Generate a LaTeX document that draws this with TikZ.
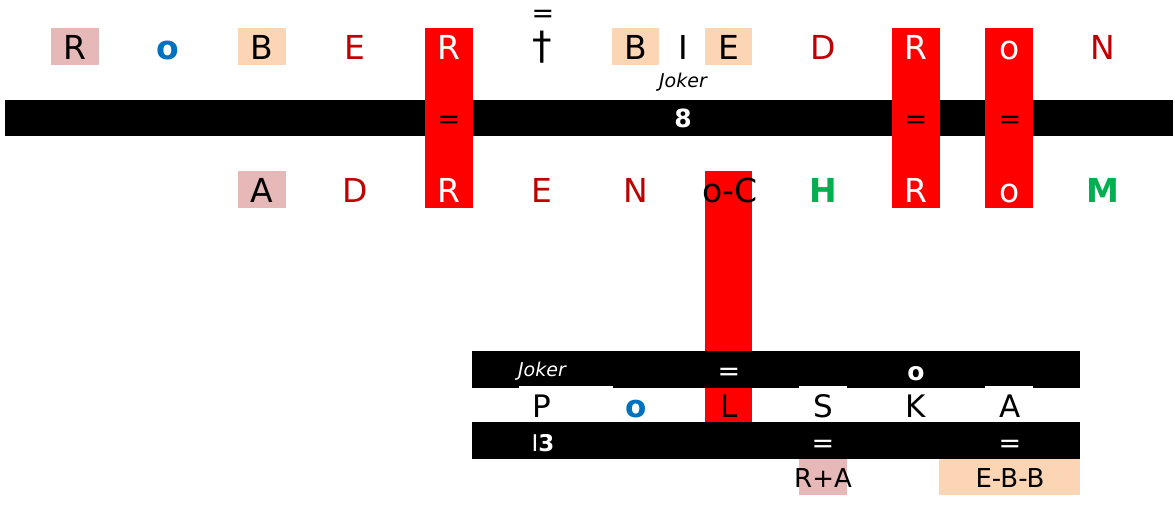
\documentclass[tikz,border=0pt]{standalone}
\usepackage{fontspec}
\setmainfont{DejaVu Sans}
\definecolor{pinkbox}{HTML}{E6B8B7}
\definecolor{peach}{HTML}{FCD5B4}
\definecolor{redc}{HTML}{FF0000}
\definecolor{darkred}{HTML}{C00000}
\definecolor{blueo}{HTML}{0070C0}
\definecolor{greenl}{HTML}{00B050}
\begin{document}
\begin{tikzpicture}[x=1pt,y=-1pt,
  big/.style={anchor=base,inner sep=0pt,font=\fontsize{33}{33}\selectfont},
  bigb/.style={anchor=base,inner sep=0pt,font=\fontsize{33}{33}\selectfont\bfseries},
  mid/.style={anchor=base,inner sep=0pt,font=\fontsize{31}{31}\selectfont},
  midb/.style={anchor=base,inner sep=0pt,font=\fontsize{31}{31}\selectfont\bfseries},
  eq/.style={anchor=base,inner sep=0pt,font=\fontsize{27}{27}\selectfont},
  num/.style={anchor=base,inner sep=0pt,font=\fontsize{25}{25}\selectfont\bfseries},
  joker/.style={anchor=base,inner sep=0pt,font=\fontsize{19}{19}\selectfont\itshape},
  small/.style={anchor=base,inner sep=0pt,font=\fontsize{26}{26}\selectfont}]
\useasboundingbox[fill=white] (0,0) rectangle (1175,508);
% top section boxes
\fill[pinkbox] (51,28) rectangle (99,65);
\fill[peach] (238,28) rectangle (286,65);
\fill[peach] (612,28) rectangle (659,65);
\fill[peach] (705,28) rectangle (752,65);
\fill[pinkbox] (238,171) rectangle (286,208);
\fill[black] (5,100) rectangle (1173,136);
\fill[redc] (425,28) rectangle (473,208);
\fill[redc] (892,28) rectangle (940,208);
\fill[redc] (985,28) rectangle (1033,208);
% bottom section boxes
\fill[redc] (705,171) rectangle (752,422);
\fill[black] (472,351) rectangle (1080,388);
\fill[white] (519,385.5) rectangle (613,388);
\fill[white] (799,385.5) rectangle (847,388);
\fill[white] (985,385.5) rectangle (1033,388);
\fill[black] (472,422) rectangle (1080,459);
\fill[pinkbox] (799,459) rectangle (847,495);
\fill[peach] (939,459) rectangle (1080,495);
% top row
\node[big] (t1) at (75,60) {R};
\node[bigb,text=blueo] (t2) at (168,60) {o};
\node[big] (t3) at (262,60) {B};
\node[big,text=darkred] (t4) at (355,60) {E};
\node[big,text=white] (t5) at (449,60) {R};
\node[anchor=center,inner sep=0pt,font=\fontsize{39}{39}\selectfont] (t6) at (542,47) {†};
\node[eq] (t6eq) at (543,23) {=};
\node[big] (t7) at (636,60) {B};
\node[big] (t8) at (683,60) {I};
\node[big] (t9) at (729,60) {E};
\node[big,text=darkred] (t10) at (823,60) {D};
\node[big,text=white] (t11) at (916,60) {R};
\node[big,text=white] (t12) at (1010,60) {o};
\node[big,text=darkred] (t13) at (1103,60) {N};
% top bar
\node[joker] (jk1) at (683,88) {Joker};
\node[num,text=white] (n8) at (683,128) {8};
\node[eq] (q1) at (449,129) {=};
\node[eq] (q2) at (916,129) {=};
\node[eq] (q3) at (1010,129) {=};
% bottom row
\node[big] (b1) at (262,202) {A};
\node[big,text=darkred] (b2) at (355,202) {D};
\node[big,text=white] (b3) at (449,202) {R};
\node[big,text=darkred] (b4) at (542,202) {E};
\node[big,text=darkred] (b5) at (636,202) {N};
\node[big] (b6) at (730,202) {o-C};
\node[bigb,text=greenl] (b7) at (823,202) {H};
\node[big,text=white] (b8) at (916,202) {R};
\node[big,text=white] (b9) at (1010,202) {o};
\node[bigb,text=greenl] (b10) at (1103,202) {M};
% lower section bar 1
\node[joker,text=white] (jk2) at (542,376) {Joker};
\node[eq,text=white] (q4) at (729,380) {=};
\node[num,text=white] (o2) at (916,380) {o};
% lower section row
\node[mid] (p1) at (542,417) {P};
\node[midb,text=blueo] (p2) at (636,417) {o};
\node[mid] (p3) at (729,417) {L};
\node[mid] (p4) at (823,417) {S};
\node[mid] (p5) at (916,417) {K};
\node[mid] (p6) at (1010,417) {A};
% lower section bar 2
\node[anchor=base,inner sep=0pt,text=white,font=\fontsize{23}{23}\selectfont] (i3) at (543,451) {I\textbf{3}};
\node[eq,text=white] (q5) at (823,452) {=};
\node[eq,text=white] (q6) at (1010,452) {=};
% below
\node[small] (ra) at (823,487) {R+A};
\node[small] (ebb) at (1010,487) {E-B-B};
\end{tikzpicture}
\end{document}
